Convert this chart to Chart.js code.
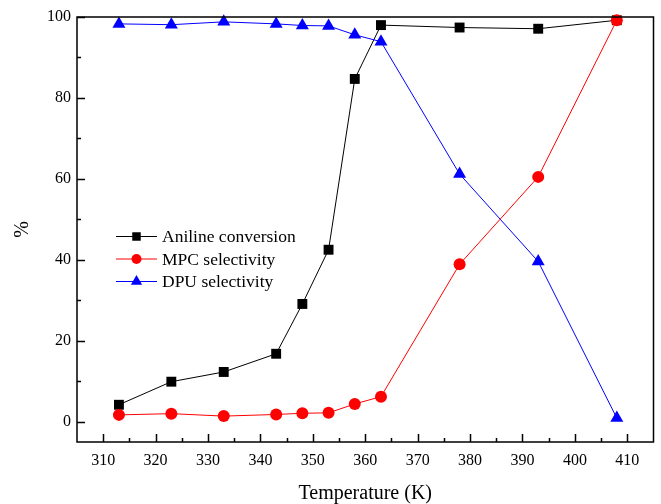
<!DOCTYPE html>
<html><head><meta charset="utf-8">
<script src="https://cdn.jsdelivr.net/npm/chart.js@4/dist/chart.umd.min.js"></script>
<style>html,body{margin:0;padding:0;background:#fff}#wrap{width:661px;height:504px;position:relative}</style>
</head><body><div id="wrap"><canvas id="c" width="661" height="504"></canvas></div>
<script>
const temperatures = [313, 323, 333, 343, 348, 353, 358, 363, 378, 393, 408];
const anilineConversion = [4.2, 9.9, 12.3, 16.8, 29.1, 42.5, 84.7, 98.0, 97.4, 97.1, 99.2];
const mpcSelectivity = [1.7, 2.0, 1.4, 1.8, 2.1, 2.2, 4.4, 6.2, 38.9, 60.5, 99.2];
const dpuSelectivity = [98.3, 98.1, 98.8, 98.3, 97.9, 97.8, 95.6, 93.9, 61.2, 39.6, 0.9];
const seriesNames = ['Aniline conversion', 'MPC selectivity', 'DPU selectivity'];
const xTickLabels = [310, 320, 330, 340, 350, 360, 370, 380, 390, 400, 410];
const yTickLabels = [0, 20, 40, 60, 80, 100];
const xTitle = 'Temperature (K)';
const yTitle = '%';

const FONT = "'Liberation Serif', 'Times New Roman', serif";
const toPts = ys => temperatures.map((t, i) => ({x: t, y: ys[i]}));

const styles = [
  {color: '#000000', point: 'rect', r: 7, order: 2},
  {color: '#ff0000', point: 'circle', r: 6, order: 0},
  {color: '#0000ff', point: 'triangle', r: 7.5, order: 1}
];
const seriesData = [anilineConversion, mpcSelectivity, dpuSelectivity];

const datasets = seriesNames.map((name, i) => ({
  label: name,
  data: toPts(seriesData[i]),
  borderColor: styles[i].color,
  backgroundColor: styles[i].color,
  pointBackgroundColor: styles[i].color,
  pointBorderColor: styles[i].color,
  pointBorderWidth: 0,
  borderWidth: 1,
  pointStyle: styles[i].point,
  pointRadius: styles[i].r,
  pointHoverRadius: styles[i].r,
  showLine: true,
  tension: 0,
  clip: false,
  order: styles[i].order
}));

const framePlugin = {
  id: 'frame',
  afterDraw(chart) {
    const ctx = chart.ctx;
    const a = chart.chartArea;
    const xs = chart.scales.x, ys = chart.scales.y;
    ctx.save();
    ctx.strokeStyle = '#000';
    ctx.lineWidth = 1.5;
    ctx.strokeRect(a.left, a.top, a.right - a.left, a.bottom - a.top);
    ctx.lineWidth = 1.5;
    ctx.beginPath();
    for (let v = 310; v <= 410; v += 5) {
      const px = Math.round(xs.getPixelForValue(v)) + 0.5;
      const len = (v % 10 === 0) ? 8 : 4;
      ctx.moveTo(px, a.bottom); ctx.lineTo(px, a.bottom - len);
    }
    for (let v = 0; v <= 100; v += 10) {
      const py = Math.round(ys.getPixelForValue(v)) + 0.5;
      const len = (v % 20 === 0) ? 8 : 4;
      ctx.moveTo(a.left, py); ctx.lineTo(a.left + len, py);
    }
    ctx.stroke();

    // legend
    const rows = [236.5, 259, 281.5];
    ctx.font = '17.5px ' + FONT;
    ctx.textBaseline = 'middle';
    ctx.textAlign = 'left';
    seriesNames.forEach((name, i) => {
      const y = rows[i];
      ctx.strokeStyle = styles[i].color;
      ctx.lineWidth = 1;
      ctx.beginPath(); ctx.moveTo(116, y); ctx.lineTo(157, y); ctx.stroke();
      ctx.fillStyle = styles[i].color;
      Chart.helpers.drawPoint(ctx, {pointStyle: styles[i].point, radius: styles[i].r - 1, borderWidth: 0, rotation: 0}, 136.5, y);
      ctx.fillStyle = '#000';
      ctx.fillText(name, 162, y + 1);
    });
    ctx.restore();
  }
};

new Chart(document.getElementById('c'), {
  type: 'scatter',
  data: {datasets},
  options: {
    responsive: false,
    animation: false,
    devicePixelRatio: 1,
    layout: {padding: {top: 17, right: 7, left: 0, bottom: 0}},
    plugins: {legend: {display: false}, tooltip: {enabled: false}},
    scales: {
      x: {
        type: 'linear', min: 305, max: 415,
        afterBuildTicks: s => { s.ticks = xTickLabels.map(v => ({value: v})); },
        afterFit: s => { s.height = 62; },
        grid: {display: false, drawTicks: false},
        border: {display: false},
        ticks: {color: '#000', font: {family: FONT, size: 16}, padding: 9, maxRotation: 0, autoSkip: false},
        title: {display: true, text: xTitle, color: '#000', font: {family: FONT, size: 20}, padding: {top: 0, bottom: -2}}
      },
      y: {
        type: 'linear', min: -5, max: 100,
        afterBuildTicks: s => { s.ticks = yTickLabels.map(v => ({value: v})); },
        afterFit: s => { s.width = 77; },
        grid: {display: false, drawTicks: false},
        border: {display: false},
        ticks: {color: '#000', font: {family: FONT, size: 16}, padding: 6, autoSkip: false},
        title: {display: true, text: yTitle, color: '#000', font: {family: FONT, size: 20}, padding: {top: 11, bottom: 0}}
      }
    }
  },
  plugins: [framePlugin]
});
</script>
</body></html>
